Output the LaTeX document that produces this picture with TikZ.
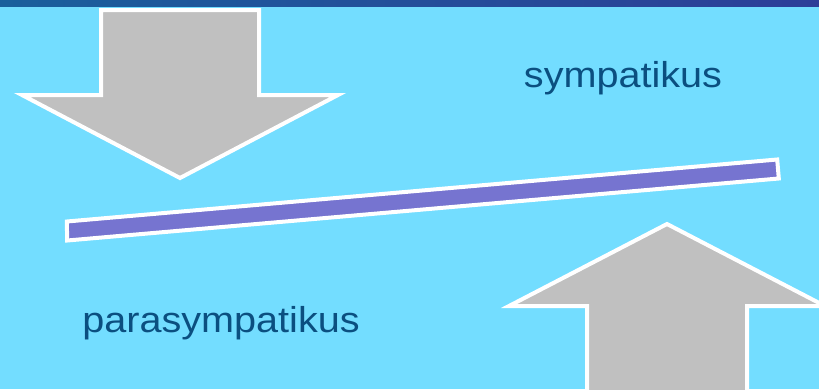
\documentclass[tikz,border=0pt]{standalone}
\usepackage{graphicx}
\usepackage{fontspec}
\setmainfont{Liberation Sans}
\definecolor{bgcyan}{HTML}{73DDFF}
\definecolor{bandL}{HTML}{1A5F9C}
\definecolor{bandR}{HTML}{2D3E98}
\definecolor{arrowgray}{HTML}{C0C0C0}
\definecolor{barpurple}{HTML}{7674D0}
\definecolor{textblue}{HTML}{0B4F80}
\newcommand{\widetext}[1]{\scalebox{1.1}[1]{#1}}
\begin{document}
\begin{tikzpicture}[x=1pt,y=-1pt,
  bigarrow/.style={fill=arrowgray, draw=white, line width=4pt, line join=miter, miter limit=10},
  beam/.style={fill=barpurple, draw=white, line width=4pt, line join=miter},
  label/.style={text=textblue, font=\fontsize{36}{42}\selectfont, anchor=base, inner sep=0pt}]
\useasboundingbox (0,0) rectangle (819,389);
\begin{scope}
\clip (0,0) rectangle (819,389);
\fill[bgcyan] (0,0) rectangle (819,389);
\shade[left color=bandL, right color=bandR] (0,0) rectangle (819,6);
% down arrow
\draw[bigarrow] (101,10) -- (259,10) -- (259,95) -- (338,95) -- (180,178) -- (22,95) -- (101,95) -- cycle;
% up arrow
\draw[bigarrow] (587,400) -- (587,306) -- (509,306) -- (667,224) -- (825,306) -- (747,306) -- (747,400) -- cycle;
% beam
\draw[beam] (67.2,240.5) -- (66.8,221.5) -- (777.2,159.5) -- (778.8,178.5) -- cycle;
\end{scope}
\node[label] (symp) at (623,87) {\widetext{sympatikus}};
\node[label] (para) at (221,332) {\widetext{parasympatikus}};
\end{tikzpicture}
\end{document}
